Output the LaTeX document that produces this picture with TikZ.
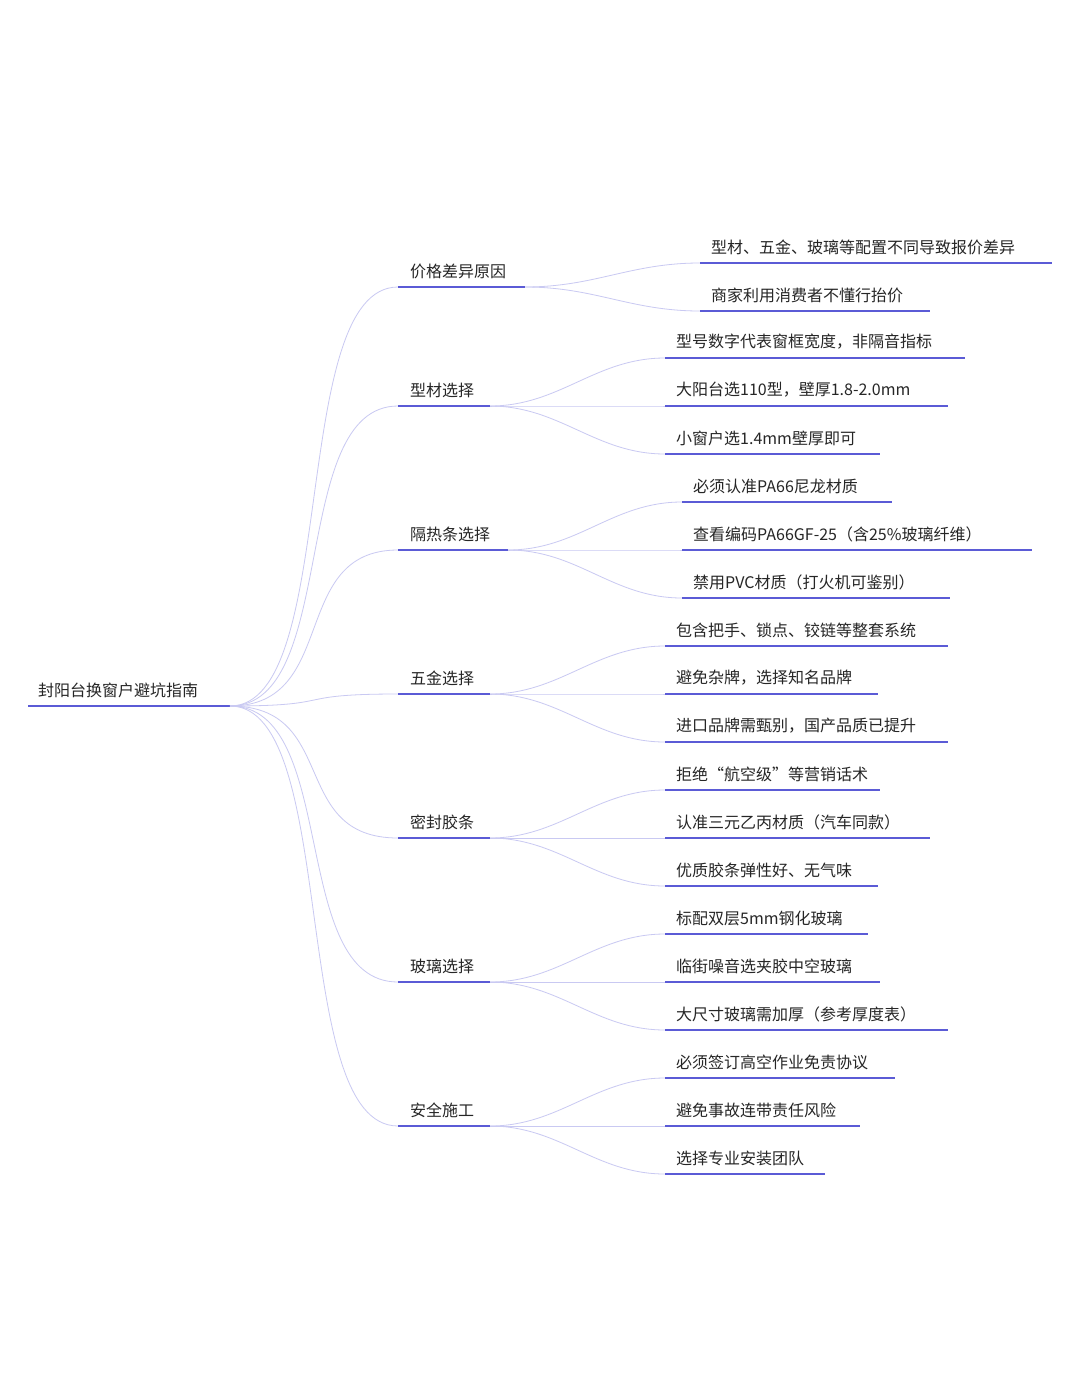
\documentclass[tikz,border=0pt]{standalone}
\usepackage{fontspec}
\setmainfont{Noto Sans CJK SC}
\begin{document}
\begin{tikzpicture}[x=1pt,y=-1pt,
 ul/.style={draw=lineblue,line width=1.8pt},
 cv/.style={draw=curvecol,line width=0.8pt},
 lbl/.style={anchor=west,inner sep=0pt,font=\fontsize{16}{16}\selectfont,text=black!85}]
\definecolor{lineblue}{HTML}{5B5BD6}
\definecolor{curvecol}{HTML}{C9C9F2}
\useasboundingbox[fill=white] (0,0) rectangle (1080,1373);
\newcommand\br[4]{%
 \coordinate (#1s) at (398,#2); \coordinate (#1e) at (#3,#2);
 \draw[cv] (roote) .. controls +(110,0) and +(-110,0) .. (#1s);
 \draw[ul] (#1s)--(#1e); \node[lbl] (#1t) at (410,{#2-16}){#4};}
\newcommand\lf[6]{%
 \coordinate (#2s) at (#3,#4); \coordinate (#2e) at (#5,#4);
 \draw[cv] (#1e) .. controls +(70,0) and +(-70,0) .. (#2s);
 \draw[ul] (#2s)--(#2e); \node[lbl] (#2t) at ({#3+11},{#4-16}){#6};}
\coordinate (roots) at (28,706); \coordinate (roote) at (230,706);
\draw[ul] (roots)--(roote);
\node[lbl] (roott) at (38,690) {封阳台换窗户避坑指南};
\br{a}{287}{525}{价格差异原因}
\br{b}{406}{490}{型材选择}
\br{c}{550}{508}{隔热条选择}
\br{d}{694}{490}{五金选择}
\br{e}{838}{490}{密封胶条}
\br{f}{982}{490}{玻璃选择}
\br{g}{1126}{490}{安全施工}
\lf{a}{a1}{700}{263}{1052}{型材、五金、玻璃等配置不同导致报价差异}
\lf{a}{a2}{700}{311}{930}{商家利用消费者不懂行抬价}
\lf{b}{b1}{665}{358}{965}{型号数字代表窗框宽度，非隔音指标}
\lf{b}{b2}{665}{406}{948}{大阳台选110型，壁厚1.8-2.0mm}
\lf{b}{b3}{665}{454}{880}{小窗户选1.4mm壁厚即可}
\lf{c}{c1}{682}{502}{892}{必须认准PA66尼龙材质}
\lf{c}{c2}{682}{550}{1032}{查看编码PA66GF-25（含25\%玻璃纤维）}
\lf{c}{c3}{682}{598}{950}{禁用PVC材质（打火机可鉴别）}
\lf{d}{d1}{665}{646}{948}{包含把手、锁点、铰链等整套系统}
\lf{d}{d2}{665}{694}{878}{避免杂牌，选择知名品牌}
\lf{d}{d3}{665}{742}{948}{进口品牌需甄别，国产品质已提升}
\lf{e}{e1}{665}{790}{880}{拒绝“航空级”等营销话术}
\lf{e}{e2}{665}{838}{930}{认准三元乙丙材质（汽车同款）}
\lf{e}{e3}{665}{886}{878}{优质胶条弹性好、无气味}
\lf{f}{f1}{665}{934}{868}{标配双层5mm钢化玻璃}
\lf{f}{f2}{665}{982}{880}{临街噪音选夹胶中空玻璃}
\lf{f}{f3}{665}{1030}{948}{大尺寸玻璃需加厚（参考厚度表）}
\lf{g}{g1}{665}{1078}{895}{必须签订高空作业免责协议}
\lf{g}{g2}{665}{1126}{860}{避免事故连带责任风险}
\lf{g}{g3}{665}{1174}{825}{选择专业安装团队}
\end{tikzpicture}
\end{document}
